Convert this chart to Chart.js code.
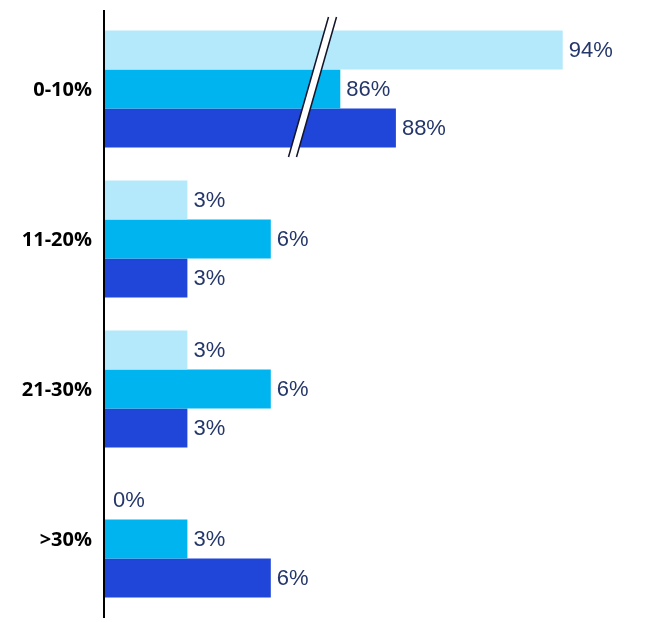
<!DOCTYPE html>
<html>
<head>
<meta charset="utf-8">
<script src="https://cdn.jsdelivr.net/npm/chart.js@4/dist/chart.umd.min.js"></script>
<style>
  body { margin: 0; background: #fff; }
  #chart { display: block; }
</style>
</head>
<body>
<canvas id="chart" width="660" height="623"></canvas>
<script>
// data
const categories = ['0-10%', '11-20%', '21-30%', '>30%'];
const seriesA = [94, 3, 3, 0];
const seriesB = [86, 6, 6, 3];
const seriesC = [88, 3, 3, 6];
const colors = ['#b3e9fb', '#00b4ef', '#1f45d9'];

// broken axis: values above the break are shifted left
const breakShift = 77.5;
const breakAt = 7.5;
const shown = v => (v > 50 ? v - breakShift : v);

// value labels at bar ends, category labels left of the axis
const labelPlugin = {
  id: 'labels',
  afterDatasetsDraw(chart) {
    const ctx = chart.ctx;
    ctx.save();
    ctx.font = '22px "Liberation Sans", Arial, sans-serif';
    ctx.fillStyle = '#25376a';
    ctx.textBaseline = 'middle';
    chart.data.datasets.forEach((ds, i) => {
      chart.getDatasetMeta(i).data.forEach((bar, j) => {
        const x = ds.raw[j] === 0 ? bar.x + 9 : bar.x + 6;
        ctx.fillText(ds.raw[j] + '%', x, bar.y + 1);
      });
    });

    const y = chart.scales.y;
    ctx.font = '700 20px "Open Sans", "Liberation Sans", sans-serif';
    ctx.fillStyle = '#000';
    ctx.textAlign = 'right';
    categories.forEach((c, i) => {
      ctx.fillText(c, 92, y.getPixelForValue(i) + 1);
    });
    ctx.restore();
  }
};

// axis line and break marks
const extrasPlugin = {
  id: 'extras',
  afterDatasetsDraw(chart) {
    const ctx = chart.ctx;
    const x0 = chart.scales.x.getPixelForValue(0);
    ctx.save();
    ctx.strokeStyle = '#000';
    ctx.lineWidth = 2;
    ctx.beginPath();
    ctx.moveTo(x0, 10);
    ctx.lineTo(x0, 618);
    ctx.stroke();

    const bx = chart.scales.x.getPixelForValue(breakAt);
    const top = 17, bot = 157, slant = 20, gap = 8;
    ctx.fillStyle = '#fff';
    ctx.beginPath();
    ctx.moveTo(bx + slant - gap / 2, top);
    ctx.lineTo(bx + slant + gap / 2, top);
    ctx.lineTo(bx - slant + gap / 2, bot);
    ctx.lineTo(bx - slant - gap / 2, bot);
    ctx.closePath();
    ctx.fill();
    ctx.strokeStyle = '#14142a';
    ctx.lineWidth = 1.5;
    [-gap / 2, gap / 2].forEach(d => {
      ctx.beginPath();
      ctx.moveTo(bx + slant + d, top);
      ctx.lineTo(bx - slant + d, bot);
      ctx.stroke();
    });
    ctx.restore();
  }
};

new Chart(document.getElementById('chart'), {
  type: 'bar',
  data: {
    labels: categories,
    datasets: [seriesA, seriesB, seriesC].map((s, i) => ({
      data: s.map(shown),
      raw: s,
      backgroundColor: colors[i],
      categoryPercentage: 0.78,
      barPercentage: 1.0
    }))
  },
  options: {
    indexAxis: 'y',
    responsive: false,
    animation: false,
    devicePixelRatio: 1,
    layout: { padding: { top: 14, bottom: 9, right: 0, left: 0 } },
    plugins: { legend: { display: false }, tooltip: { enabled: false } },
    scales: {
      x: { display: false, min: 0, max: 20 },
      y: {
        afterFit: s => { s.width = 104; },
        grid: { display: false },
        border: { display: false },
        ticks: { display: false }
      }
    }
  },
  plugins: [labelPlugin, extrasPlugin]
});
</script>
</body>
</html>
